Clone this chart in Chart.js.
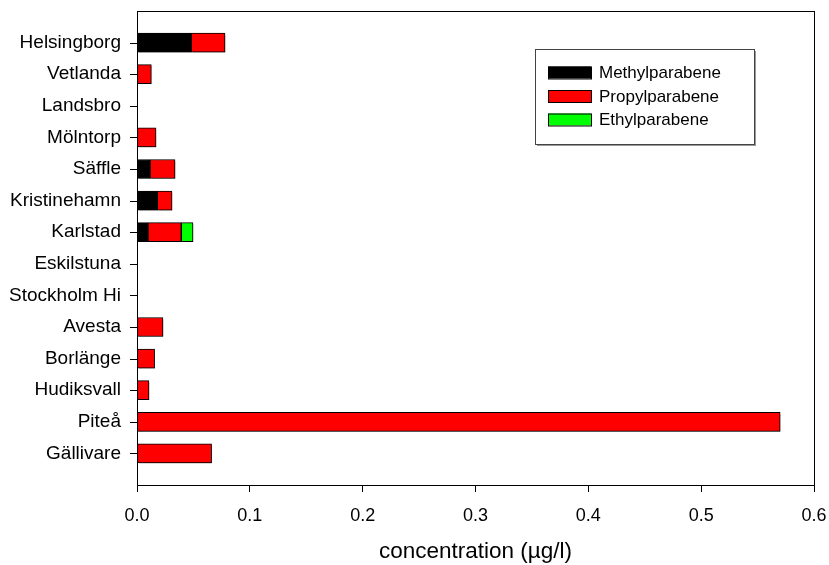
<!DOCTYPE html>
<html>
<head>
<meta charset="utf-8">
<style>
  html, body { margin: 0; padding: 0; background: #fff; }
  #wrap { width: 829px; height: 565px; }
</style>
<script src="https://cdn.jsdelivr.net/npm/chart.js@4"></script>
</head>
<body>
<div id="wrap"><canvas id="chart" width="829" height="565"></canvas></div>
<script>
  const sites = ["Helsingborg", "Vetlanda", "Landsbro", "Mölntorp", "Säffle", "Kristinehamn",
    "Karlstad", "Eskilstuna", "Stockholm Hi", "Avesta", "Borlänge", "Hudiksvall", "Piteå", "Gällivare"];
  const methyl = [0.048, null, null, null, 0.0115, 0.018, 0.0097, null, null, null, null, null, null, null];
  const propyl = [0.030, 0.0127, null, 0.0168, 0.0222, 0.013, 0.0295, null, null, 0.023, 0.0156, 0.0106, 0.570, 0.0661];
  const ethyl = [null, null, null, null, null, null, 0.0104, null, null, null, null, null, null, null];
  const xTicks = [0, 0.1, 0.2, 0.3, 0.4, 0.5, 0.6];

  const font = "'Liberation Sans', Arial, sans-serif";

  function toPoints(values) {
    return values.map((v, i) => ({ x: v, y: i + 1 }));
  }

  // faint drop shadow under the bars, like the original
  const shadowPlugin = {
    id: "barShadow",
    beforeDatasetsDraw(chart) {
      const c = chart.ctx;
      c.save();
      c.shadowColor = "rgba(0,0,0,0.3)";
      c.shadowOffsetX = 2;
      c.shadowOffsetY = 2;
      c.shadowBlur = 0;
    },
    afterDatasetsDraw(chart) {
      chart.ctx.restore();
    }
  };

  // frame around plot area + legend box inside it
  const framePlugin = {
    id: "frame",
    afterDraw(chart) {
      const { ctx, chartArea: a } = chart;
      ctx.save();
      ctx.strokeStyle = "#000";
      ctx.lineWidth = 1;
      ctx.strokeRect(Math.round(a.left) + 0.5, Math.round(a.top) + 0.5,
        Math.round(a.right - a.left), Math.round(a.bottom - a.top));

      // small tick marks left of the y axis, one per site
      const ys = chart.scales.y;
      ctx.beginPath();
      sites.forEach((s, i) => {
        const py = Math.round(ys.getPixelForValue(i + 1)) + 0.5;
        ctx.moveTo(Math.round(a.left) - 7, py);
        ctx.lineTo(Math.round(a.left), py);
      });
      ctx.stroke();

      const bx = 535, by = 49, bw = 219, bh = 95;
      ctx.fillStyle = "#999";
      ctx.fillRect(bx + 2, by + 2, bw, bh);
      ctx.fillStyle = "#fff";
      ctx.fillRect(bx, by, bw, bh);
      ctx.strokeStyle = "#444";
      ctx.strokeRect(bx + 0.5, by + 0.5, bw, bh);

      ctx.font = "17px " + font;
      ctx.textBaseline = "middle";
      chart.data.datasets.forEach((ds, i) => {
        const cy = 72.5 + i * 23.5;
        ctx.fillStyle = ds.backgroundColor;
        ctx.fillRect(548, cy - 6, 43, 12);
        ctx.strokeStyle = "#000";
        ctx.strokeRect(548.5, cy - 5.5, 43, 12);
        ctx.fillStyle = "#000";
        ctx.fillText(ds.label, 599, cy + 1);
      });
      ctx.restore();
    }
  };

  const ctx = document.getElementById("chart").getContext("2d");
  new Chart(ctx, {
    type: "bar",
    data: {
      datasets: [
        { label: "Methylparabene", data: toPoints(methyl), backgroundColor: "#000000" },
        { label: "Propylparabene", data: toPoints(propyl), backgroundColor: "#ff0000" },
        { label: "Ethylparabene", data: toPoints(ethyl), backgroundColor: "#00ff00" },
      ].map((d) => Object.assign(d, {
        stack: "s",
        borderColor: "#000",
        borderWidth: 1,
        borderSkipped: false,
        barThickness: 19,
      })),
    },
    options: {
      indexAxis: "y",
      responsive: false,
      animation: false,
      layout: { padding: { top: 11, right: 15, left: 0, bottom: 0 } },
      plugins: { legend: { display: false }, tooltip: { enabled: false } },
      scales: {
        x: {
          type: "linear",
          stacked: true,
          min: 0,
          max: 0.6,
          afterBuildTicks: (scale) => { scale.ticks = xTicks.map((v) => ({ value: v })); },
          afterFit: (scale) => {
            scale.height = 80;
            scale.paddingLeft = 0;
            scale.paddingRight = 0;
          },
          ticks: {
            color: "#000",
            font: { family: font, size: 18 },
            padding: 13,
            maxRotation: 0,
            callback: (v) => v.toFixed(1),
          },
          grid: { drawOnChartArea: false, drawTicks: true, tickLength: 7, color: "#000" },
          border: { color: "#000" },
          title: {
            display: true,
            text: "concentration (µg/l)",
            color: "#000",
            font: { family: font, size: 22.5 },
            padding: { top: 0, bottom: 0 },
          },
        },
        y: {
          type: "linear",
          reverse: true,
          offset: false,
          min: 0,
          max: 15,
          afterBuildTicks: (scale) => { scale.ticks = sites.map((s, i) => ({ value: i + 1 })); },
          afterFit: (scale) => {
            scale.width = 137;
            scale.paddingTop = 0;
            scale.paddingBottom = 0;
          },
          ticks: {
            color: "#000",
            font: { family: font, size: 19 },
            padding: 8,
            callback: (v) => sites[v - 1] || "",
          },
          grid: { display: false },
          border: { color: "#000" },
        },
      },
    },
    plugins: [shadowPlugin, framePlugin],
  });
</script>
</body>
</html>
